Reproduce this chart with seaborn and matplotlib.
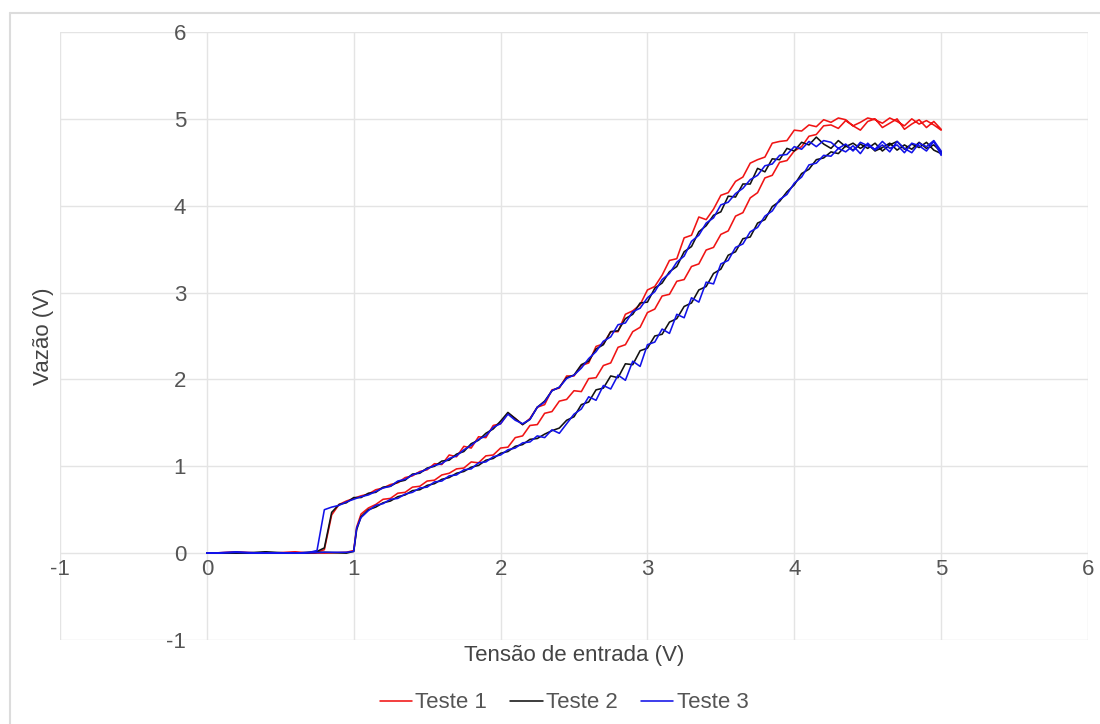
import matplotlib
matplotlib.use("Agg")
import matplotlib.pyplot as plt
import pandas as pd
import seaborn as sns
from matplotlib.lines import Line2D

# Input voltage sweep: rising (0 -> 5 V) and falling (5 -> 0 V)
tensao_subida = [
    0.00, 0.20, 0.40, 0.60, 0.80, 0.95, 1.00, 1.02,
    1.05, 1.10, 1.15, 1.20, 1.25, 1.30, 1.35, 1.40, 1.45, 1.50,
    1.55, 1.60, 1.65, 1.70, 1.75, 1.80, 1.85, 1.90, 1.95, 2.00,
    2.05, 2.10, 2.15, 2.20, 2.25, 2.30, 2.35, 2.40, 2.45, 2.50,
    2.55, 2.60, 2.65, 2.70, 2.75, 2.80, 2.85, 2.90, 2.95, 3.00,
    3.05, 3.10, 3.15, 3.20, 3.25, 3.30, 3.35, 3.40, 3.45, 3.50,
    3.55, 3.60, 3.65, 3.70, 3.75, 3.80, 3.85, 3.90, 3.95, 4.00,
    4.05, 4.10, 4.15, 4.20, 4.25, 4.30, 4.35, 4.40, 4.45, 4.50,
    4.55, 4.60, 4.65, 4.70, 4.75, 4.80, 4.85, 4.90, 4.95, 5.00,
]
tensao_descida = [
    5.00, 4.95, 4.90, 4.85, 4.80, 4.75, 4.70, 4.65, 4.60, 4.55,
    4.50, 4.45, 4.40, 4.35, 4.30, 4.25, 4.20, 4.15, 4.10, 4.05,
    4.00, 3.95, 3.90, 3.85, 3.80, 3.75, 3.70, 3.65, 3.60, 3.55,
    3.50, 3.45, 3.40, 3.35, 3.30, 3.25, 3.20, 3.15, 3.10, 3.05,
    3.00, 2.95, 2.90, 2.85, 2.80, 2.75, 2.70, 2.65, 2.60, 2.55,
    2.50, 2.45, 2.40, 2.35, 2.30, 2.25, 2.20, 2.15, 2.10, 2.05,
    2.00, 1.95, 1.90, 1.85, 1.80, 1.75, 1.70, 1.65, 1.60, 1.55,
    1.50, 1.45, 1.40, 1.35, 1.30, 1.25, 1.20, 1.15, 1.10, 1.05,
    1.00, 0.95, 0.90, 0.85, 0.80, 0.75, 0.70,
    0.60, 0.40, 0.20, 0.00,
]

# Measured flow signal (V) for each test
teste1_subida = [
    0.00, 0.01, 0.00, 0.01, 0.00, 0.01, 0.03, 0.30,
    0.45, 0.52, 0.56, 0.62, 0.63, 0.69, 0.70, 0.76, 0.77, 0.83,
    0.84, 0.90, 0.92, 0.97, 0.98, 1.05, 1.04, 1.12, 1.13, 1.21,
    1.22, 1.33, 1.35, 1.47, 1.48, 1.61, 1.63, 1.75, 1.77, 1.87,
    1.86, 2.01, 2.02, 2.16, 2.19, 2.37, 2.40, 2.55, 2.60, 2.77,
    2.81, 2.96, 2.98, 3.13, 3.15, 3.30, 3.33, 3.49, 3.52, 3.67,
    3.71, 3.88, 3.92, 4.09, 4.15, 4.32, 4.35, 4.50, 4.52, 4.63,
    4.68, 4.80, 4.82, 4.92, 4.93, 4.89, 4.98, 4.92, 4.87, 4.97,
    5.00, 4.90, 4.95, 5.00, 4.88, 4.94, 4.99, 4.90, 4.97, 4.88,
]
teste1_descida = [
    4.87, 4.93, 4.98, 4.94, 5.00, 4.92, 4.97, 5.01, 4.95, 4.99,
    5.01, 4.96, 4.92, 4.99, 5.01, 4.96, 4.99, 4.91, 4.93, 4.86,
    4.87, 4.75, 4.74, 4.72, 4.56, 4.53, 4.49, 4.33, 4.28, 4.15,
    4.12, 3.96, 3.84, 3.87, 3.66, 3.63, 3.39, 3.37, 3.20, 3.07,
    3.03, 2.86, 2.79, 2.75, 2.55, 2.55, 2.41, 2.38, 2.19, 2.16,
    2.04, 2.04, 1.90, 1.88, 1.71, 1.68, 1.55, 1.48, 1.55, 1.61,
    1.49, 1.47, 1.33, 1.34, 1.21, 1.23, 1.11, 1.13, 1.02, 1.03,
    0.96, 0.94, 0.89, 0.87, 0.81, 0.79, 0.75, 0.73, 0.68, 0.66,
    0.63, 0.60, 0.56, 0.44, 0.04, 0.01, 0.00,
    0.01, 0.00, 0.01, 0.00,
]
teste2_subida = [
    0.00, 0.00, 0.01, 0.00, 0.01, 0.00, 0.02, 0.27,
    0.42, 0.50, 0.53, 0.58, 0.60, 0.65, 0.67, 0.72, 0.73, 0.78,
    0.80, 0.85, 0.87, 0.92, 0.94, 0.99, 1.01, 1.07, 1.09, 1.15,
    1.17, 1.23, 1.25, 1.31, 1.32, 1.37, 1.41, 1.44, 1.53, 1.57,
    1.71, 1.74, 1.88, 1.90, 2.04, 2.02, 2.18, 2.17, 2.33, 2.36,
    2.50, 2.52, 2.66, 2.70, 2.84, 2.88, 3.03, 3.07, 3.22, 3.27,
    3.43, 3.47, 3.62, 3.64, 3.80, 3.84, 3.99, 4.05, 4.16, 4.24,
    4.37, 4.42, 4.53, 4.55, 4.62, 4.60, 4.69, 4.64, 4.71, 4.66,
    4.72, 4.63, 4.70, 4.74, 4.65, 4.71, 4.67, 4.73, 4.64, 4.60,
]
teste2_descida = [
    4.62, 4.70, 4.66, 4.73, 4.65, 4.70, 4.64, 4.72, 4.67, 4.63,
    4.71, 4.66, 4.72, 4.68, 4.75, 4.66, 4.71, 4.79, 4.70, 4.73,
    4.63, 4.66, 4.53, 4.54, 4.39, 4.43, 4.25, 4.25, 4.10, 4.11,
    3.93, 3.89, 3.77, 3.70, 3.53, 3.47, 3.30, 3.24, 3.11, 3.05,
    2.89, 2.88, 2.75, 2.70, 2.56, 2.55, 2.40, 2.35, 2.21, 2.17,
    2.05, 2.02, 1.91, 1.87, 1.75, 1.68, 1.54, 1.48, 1.55, 1.62,
    1.52, 1.43, 1.38, 1.30, 1.26, 1.17, 1.14, 1.07, 1.06, 1.00,
    0.98, 0.92, 0.91, 0.84, 0.82, 0.77, 0.76, 0.70, 0.69, 0.64,
    0.64, 0.58, 0.56, 0.47, 0.06, 0.02, 0.01,
    0.00, 0.01, 0.00, 0.00,
]
teste3_subida = [
    0.00, 0.01, 0.00, 0.00, 0.01, 0.01, 0.02, 0.29,
    0.41, 0.49, 0.55, 0.57, 0.62, 0.63, 0.68, 0.70, 0.75, 0.76,
    0.82, 0.83, 0.89, 0.90, 0.96, 0.97, 1.04, 1.05, 1.11, 1.13,
    1.19, 1.21, 1.27, 1.28, 1.35, 1.33, 1.42, 1.38, 1.49, 1.60,
    1.66, 1.80, 1.76, 1.93, 1.89, 2.05, 1.99, 2.21, 2.15, 2.40,
    2.43, 2.58, 2.53, 2.75, 2.71, 2.94, 2.89, 3.12, 3.10, 3.33,
    3.37, 3.52, 3.56, 3.70, 3.75, 3.88, 3.94, 4.07, 4.13, 4.26,
    4.33, 4.47, 4.49, 4.58, 4.57, 4.66, 4.62, 4.69, 4.60, 4.72,
    4.64, 4.70, 4.62, 4.74, 4.66, 4.61, 4.72, 4.68, 4.75, 4.63,
]
teste3_descida = [
    4.58, 4.74, 4.63, 4.69, 4.72, 4.61, 4.70, 4.66, 4.74, 4.65,
    4.69, 4.73, 4.63, 4.71, 4.66, 4.73, 4.75, 4.68, 4.74, 4.65,
    4.68, 4.59, 4.58, 4.48, 4.46, 4.35, 4.30, 4.20, 4.14, 4.04,
    4.01, 3.86, 3.80, 3.66, 3.59, 3.42, 3.35, 3.22, 3.15, 3.01,
    2.94, 2.82, 2.78, 2.65, 2.63, 2.49, 2.44, 2.32, 2.24, 2.13,
    2.05, 2.01, 1.91, 1.87, 1.74, 1.68, 1.54, 1.49, 1.53, 1.60,
    1.49, 1.45, 1.35, 1.31, 1.24, 1.19, 1.12, 1.09, 1.03, 1.01,
    0.97, 0.93, 0.90, 0.85, 0.83, 0.77, 0.75, 0.71, 0.67, 0.65,
    0.62, 0.59, 0.55, 0.53, 0.50, 0.03, 0.01,
    0.00, 0.00, 0.01, 0.00,
]

testes = ["Teste 1", "Teste 2", "Teste 3"]
cores = ["#f01414", "#111111", "#1212e8"]
ticks = [-1, 0, 1, 2, 3, 4, 5, 6]

# Each test is one continuous sweep: up, then back down
frames = []
for nome, sub, desc in zip(
    testes,
    [teste1_subida, teste2_subida, teste3_subida],
    [teste1_descida, teste2_descida, teste3_descida],
):
    frames.append(pd.DataFrame({
        "Tensão": tensao_subida + tensao_descida,
        "Vazão": sub + desc,
        "Teste": nome,
    }))
df = pd.concat(frames, ignore_index=True)

sns.set_theme(style="white")
plt.rcParams["font.family"] = ["Liberation Sans", "DejaVu Sans"]
plt.rcParams["axes.unicode_minus"] = False

FS = 16
W, H = 1100, 724
fig = plt.figure(figsize=(W / 100, H / 100), dpi=100)
ax = fig.add_axes([60 / W, 1 - 640 / H, 1028 / W, 608 / H])

sns.lineplot(
    data=df, x="Tensão", y="Vazão", hue="Teste", palette=cores,
    sort=False, estimator=None, linewidth=1.15, ax=ax,
)

ax.set_xlim(-1, 6)
ax.set_ylim(-1, 6)
ax.set_xticks(ticks)
ax.set_yticks(ticks)
ax.set_axisbelow(True)
ax.grid(True, color="#e4e4e4", linewidth=1.0)
for sp in ax.spines.values():
    sp.set_visible(False)
ax.spines["left"].set_position(("data", 0))
ax.spines["bottom"].set_position(("data", 0))
ax.tick_params(length=0, labelsize=FS, labelcolor="#555555")
ax.tick_params(axis="y", pad=15)
ax.tick_params(axis="x", pad=4.5)

ax.set_xlabel("Tensão de entrada (V)", fontsize=FS, color="#444444")
ax.set_ylabel("Vazão (V)", fontsize=FS, color="#444444")
ax.xaxis.label.set_verticalalignment("center")
ax.yaxis.label.set_verticalalignment("center")
ax.xaxis.set_label_coords(0.5, (640 - 655) / 608)
ax.yaxis.set_label_coords((44 - 60) / 1028, 0.5)

sns.move_legend(
    ax, "center", bbox_to_anchor=(564 / W, 1 - 703 / H),
    bbox_transform=fig.transFigure, ncol=3, frameon=False, title=None,
    fontsize=FS, labelcolor="#555555", handlelength=1.45,
    handletextpad=0.15, columnspacing=1.05,
)

# Light frame around the chart area
fig.add_artist(Line2D([10 / W, 1.0], [1 - 13 / H, 1 - 13 / H],
                      transform=fig.transFigure, color="#dcdcdc", lw=1.5))
fig.add_artist(Line2D([10 / W, 10 / W], [0.0, 1 - 13 / H],
                      transform=fig.transFigure, color="#dcdcdc", lw=1.5))

fig.savefig("out.png", dpi=100, facecolor="white")
